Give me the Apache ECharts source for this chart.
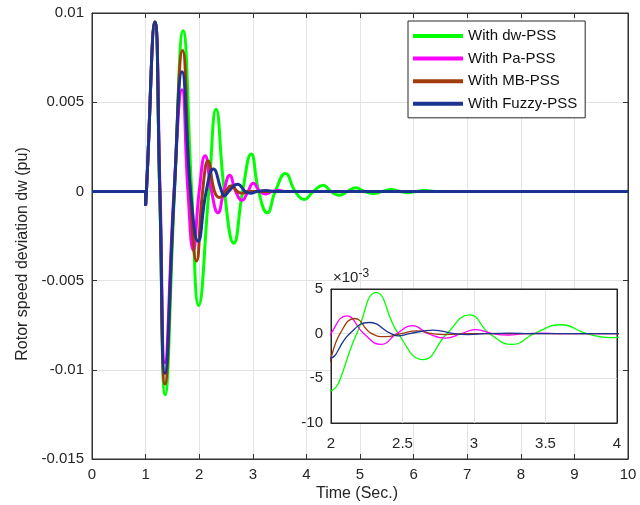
<!DOCTYPE html>
<html>
<head>
<meta charset="utf-8">
<script src="https://cdn.jsdelivr.net/npm/echarts@6/dist/echarts.min.js"></script>
<style>html,body{margin:0;padding:0;background:#fff}#c{width:640px;height:505px}</style>
</head>
<body>
<div id="c"></div>
<script>
// ---- data ----
const seriesNames = ['With dw-PSS', 'With Pa-PSS', 'With MB-PSS', 'With Fuzzy-PSS'];

const dwT = [0, 1.0, 1.0, 1.015, 1.175, 1.262, 1.365, 1.54, 1.70, 1.86, 1.99, 2.18, 2.315, 2.47, 2.645, 2.81, 2.97, 3.11, 3.27, 3.42, 3.61, 3.79, 3.96, 4.13, 4.31, 4.46, 4.61, 4.77, 4.92, 5.08, 5.25, 5.42, 5.58, 5.74, 5.9, 6.05, 6.22, 6.4, 10];
const dwV = [0, 0, -0.0008, 0, 0.0095, 0, -0.0114, 0, 0.0090, 0, -0.0064, 0, 0.0046, 0, -0.0029, 0, 0.0021, 0, -0.0012, 0, 0.0010, 0, -0.00045, 0, 0.00035, 0, -0.00022, 0, 0.0002, 0, -0.00012, 0, 0.0001, 0, -0.00007, 0, 0.00005, 0, 0];

const paT = [0, 1.0, 1.0, 1.015, 1.175, 1.27, 1.36, 1.53, 1.68, 1.79, 1.89, 2.0, 2.11, 2.23, 2.35, 2.46, 2.57, 2.68, 2.80, 2.91, 3.01, 3.13, 3.24, 3.36, 3.48, 3.6, 10];
const paV = [0, 0, -0.0008, 0, 0.0095, 0, -0.0096, 0, 0.0057, 0, -0.0033, 0, 0.0020, 0, -0.0012, 0, 0.0009, 0, -0.0005, 0, 0.00045, 0, -0.00015, 0, 0.00005, 0, 0];

const mbT = [0, 1.0, 1.0, 1.015, 1.175, 1.265, 1.36, 1.535, 1.69, 1.83, 1.95, 2.063, 2.165, 2.285, 2.38, 2.49, 2.6, 2.71, 2.8, 2.95, 10];
const mbV = [0, 0, -0.0008, 0, 0.0095, 0, -0.0108, 0, 0.0079, 0, -0.0039, 0, 0.0017, 0, -0.00034, 0, 0.00032, 0, -0.0001, 0, 0];

const fzT = [0, 1.0, 1.0, 1.015, 1.175, 1.265, 1.36, 1.535, 1.68, 1.84, 1.98, 2.13, 2.265, 2.42, 2.47, 2.55, 2.715, 2.86, 2.96, 3.08, 3.25, 3.4, 10];
const fzV = [0, 0, -0.0008, 0, 0.0095, 0, -0.0102, 0, 0.0067, 0, -0.0028, 0, 0.00125, 0, -0.00025, 0, 0.0004, 0, -0.0001, 0, 0.00005, 0, 0];

const colors = ['#00ff00', '#ff00ff', '#a33a0e', '#1c3491'];
const mainXTicks = [0, 10, 1];
const mainYTicks = [-0.015, 0.01, 0.005];
const insetXTicks = [2, 4, 0.5];
const insetYTicks = [-0.01, 0.005, 0.005];
const xTitle = 'Time (Sec.)';
const yTitle = 'Rotor speed deviation dw (pu)';

// ---- build ----
const pairs = (t, v) => t.map((x, i) => [x, v[i]]);
const allData = [pairs(dwT, dwV), pairs(paT, paV), pairs(mbT, mbV), pairs(fzT, fzV)];

const FONT = '"Liberation Sans", Arial, Helvetica, sans-serif';
const AX = '#333333';
const GRID = '#e3e3e3';
const TXT = '#262626';

function axisCommon(extra) {
  return Object.assign({
    type: 'value',
    axisLine: { show: true, onZero: false, lineStyle: { color: AX, width: 1 } },
    axisTick: { show: true, inside: true, length: 5, lineStyle: { color: AX } },
    axisLabel: { color: TXT, fontSize: 15, fontFamily: FONT },
    splitLine: { show: true, lineStyle: { color: GRID, width: 1 } }
  }, extra);
}

const series = [];
allData.forEach((d, i) => {
  series.push({
    name: seriesNames[i], type: 'line', xAxisIndex: 0, yAxisIndex: 0,
    data: d, showSymbol: false, smooth: 0.5,
    lineStyle: { color: colors[i], width: 3 }, itemStyle: { color: colors[i] },
    z: 2 + i * 0.01, animation: false
  });
});
allData.forEach((d, i) => {
  series.push({
    name: seriesNames[i], type: 'line', xAxisIndex: 2, yAxisIndex: 2,
    data: d, showSymbol: false, smooth: 0.5, clip: true,
    lineStyle: { color: colors[i], width: 1.3 }, itemStyle: { color: colors[i] },
    z: 5 + i * 0.01, animation: false
  });
});

const fmtMain = v => String(parseFloat(v.toFixed(4)));

const option = {
  animation: false,
  textStyle: { fontFamily: FONT },
  grid: [
    { left: 92, right: 12, top: 13, bottom: 46, show: true, borderColor: AX, borderWidth: 1, backgroundColor: '#fff', z: 0 },
    { left: 331, right: 23, top: 289, bottom: 82, show: true, borderColor: TXT, borderWidth: 1, backgroundColor: '#fff', z: 3 }
  ],
  xAxis: [
    axisCommon({ gridIndex: 0, min: mainXTicks[0], max: mainXTicks[1], interval: mainXTicks[2], position: 'bottom',
      axisLabel: { color: TXT, fontSize: 15, fontFamily: FONT, margin: 8 } }),
    axisCommon({ gridIndex: 0, min: mainXTicks[0], max: mainXTicks[1], interval: mainXTicks[2], position: 'top',
      axisLabel: { show: false }, splitLine: { show: false } }),
    axisCommon({ gridIndex: 1, min: insetXTicks[0], max: insetXTicks[1], interval: insetXTicks[2], position: 'bottom', z: 4,
      axisTick: { show: false },
      axisLine: { show: true, onZero: false, lineStyle: { color: TXT } },
      axisLabel: { color: TXT, fontSize: 15, fontFamily: FONT, margin: 13 } }),
    axisCommon({ gridIndex: 1, min: insetXTicks[0], max: insetXTicks[1], interval: insetXTicks[2], position: 'top', z: 4,
      axisTick: { show: false }, axisLabel: { show: false }, splitLine: { show: false },
      axisLine: { show: true, onZero: false, lineStyle: { color: TXT } } })
  ],
  yAxis: [
    axisCommon({ gridIndex: 0, min: mainYTicks[0], max: mainYTicks[1], interval: mainYTicks[2], position: 'left',
      axisLabel: { color: TXT, fontSize: 15, fontFamily: FONT, margin: 8, formatter: fmtMain } }),
    axisCommon({ gridIndex: 0, min: mainYTicks[0], max: mainYTicks[1], interval: mainYTicks[2], position: 'right',
      axisLabel: { show: false }, splitLine: { show: false } }),
    axisCommon({ gridIndex: 1, min: insetYTicks[0], max: insetYTicks[1], interval: insetYTicks[2], position: 'left', z: 4,
      axisTick: { show: false },
      axisLine: { show: true, onZero: false, lineStyle: { color: TXT } },
      axisLabel: { color: TXT, fontSize: 15, fontFamily: FONT, margin: 8, formatter: v => String(Math.round(v * 1000)) } }),
    axisCommon({ gridIndex: 1, min: insetYTicks[0], max: insetYTicks[1], interval: insetYTicks[2], position: 'right', z: 4,
      axisTick: { show: false }, axisLabel: { show: false }, splitLine: { show: false },
      axisLine: { show: true, onZero: false, lineStyle: { color: TXT } } })
  ],
  legend: {
    data: seriesNames, orient: 'vertical', left: 408, top: 21,
    icon: 'rect', itemWidth: 50, itemHeight: 4, itemGap: 6.6,
    padding: [7, 8, 6, 5],
    backgroundColor: '#fff', borderColor: TXT, borderWidth: 1, borderRadius: 0,
    textStyle: { fontSize: 15, color: '#111', fontFamily: FONT, lineHeight: 16 },
    selectedMode: false, z: 10
  },
  graphic: [
    {
      type: 'text', left: 333, top: 268, z: 10,
      style: {
        text: '×10{s|-3}', fill: TXT, font: '15px ' + FONT,
        rich: { s: { fontSize: 12, fill: TXT, verticalAlign: 'top', padding: [0, 0, 8, 0], fontFamily: FONT } }
      }
    },
    {
      type: 'text', x: 23, y: 254, rotation: Math.PI / 2, z: 10,
      style: { text: yTitle, fill: TXT, font: '16px ' + FONT, align: 'center', verticalAlign: 'middle' }
    },
    {
      type: 'text', x: 357, y: 494, z: 10,
      style: { text: xTitle, fill: TXT, font: '16px ' + FONT, align: 'center', verticalAlign: 'middle' }
    }
  ],
  series: series
};

const chart = echarts.init(document.getElementById('c'), null, { renderer: 'canvas' });
chart.setOption(option);
</script>
</body>
</html>
